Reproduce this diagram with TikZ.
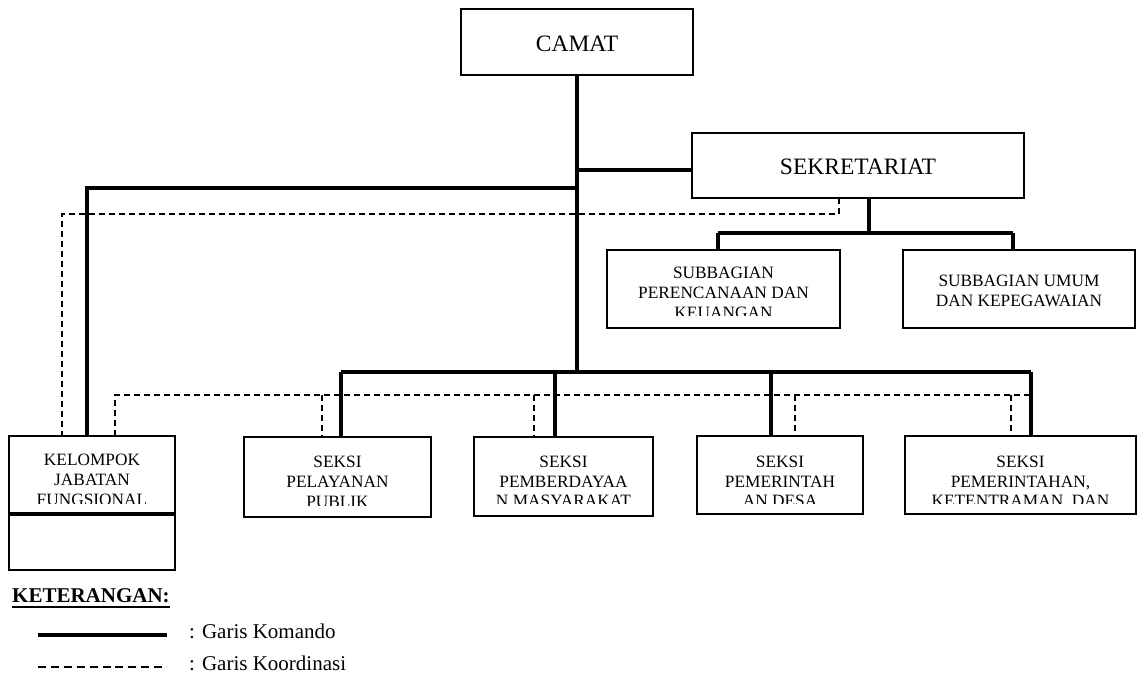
\documentclass[tikz,border=0pt]{standalone}
\usepackage{fontspec}
\setmainfont{Liberation Serif}
\begin{document}
\begin{tikzpicture}[x=1pt,y=-1pt,
  box/.style={draw, line width=2.4pt, inner sep=0pt, outer sep=0pt},
  cmd/.style={line width=3.6pt},
  crd/.style={line width=1.4pt, dash pattern=on 6pt off 4pt},
  lbl/.style={anchor=base, inner sep=0pt, font=\fontsize{17.3}{20}\selectfont},
  head/.style={anchor=base, inner sep=0pt, font=\fontsize{23.5}{28}\selectfont},
  leg/.style={anchor=base west, inner sep=0pt, font=\fontsize{21}{25}\selectfont}]
\useasboundingbox (0,0) rectangle (1138,682);

% ---------- boxes ----------
\node[box, minimum width=232pt, minimum height=66pt] (camat) at (577,42) {};
\node[head] (camatt) at (577,52) {CAMAT};

\node[box, minimum width=332pt, minimum height=65pt] (sek) at (858,165.5) {};
\node[head] (sekt) at (858,175) {SEKRETARIAT};

\node[box, minimum width=233pt, minimum height=78pt] (sub1) at (723.5,289) {};
\node[box, minimum width=232pt, minimum height=78pt] (sub2) at (1019,289) {};

\node[box, minimum width=166pt, minimum height=78pt] (kel) at (92,475) {};
\node[box, minimum width=166pt, minimum height=56pt] (kelb) at (92,542) {};
\draw[line width=4pt] (kel.south west) -- (kel.south east);

\node[box, minimum width=187pt, minimum height=80pt] (pel) at (337.5,477) {};
\node[box, minimum width=179pt, minimum height=79pt] (pem) at (563.5,476.5) {};
\node[box, minimum width=166pt, minimum height=78pt] (des) at (780,475) {};
\node[box, minimum width=231pt, minimum height=78pt] (ket) at (1020.5,475) {};

% ---------- box texts (clipped like the original) ----------
\begin{scope}
\clip (sub1.north west) rectangle (840,315);
\node[lbl] (sub1a) at (723.5,278) {SUBBAGIAN};
\node[lbl] (sub1b) at (723.5,298) {PERENCANAAN DAN};
\node[lbl] (sub1c) at (723.5,318) {KEUANGAN};
\end{scope}
\node[lbl] (sub2a) at (1019,286) {SUBBAGIAN UMUM};
\node[lbl] (sub2b) at (1019,306) {DAN KEPEGAWAIAN};

\begin{scope}
\clip (kel.north west) rectangle (175,503);
\node[lbl] (kela) at (92,465) {KELOMPOK};
\node[lbl] (kelb2) at (92,485) {JABATAN};
\node[lbl] (kelc) at (92,505) {FUNGSIONAL};
\end{scope}

\begin{scope}
\clip (pel.north west) rectangle (431,505);
\node[lbl] (pela) at (337.5,467) {SEKSI};
\node[lbl] (pelb) at (337.5,487) {PELAYANAN};
\node[lbl] (pelc) at (337.5,507) {PUBLIK};
\end{scope}

\begin{scope}
\clip (pem.north west) rectangle (653,503);
\node[lbl] (pema) at (563.5,467) {SEKSI};
\node[lbl] (pemb) at (563.5,487) {PEMBERDAYAA};
\node[lbl] (pemc) at (563.5,506) {N MASYARAKAT};
\end{scope}

\begin{scope}
\clip (des.north west) rectangle (863,503);
\node[lbl] (desa) at (780,467) {SEKSI};
\node[lbl] (desb) at (780,487) {PEMERINTAH};
\node[lbl] (desc) at (780,506) {AN DESA};
\end{scope}

\begin{scope}
\clip (ket.north west) rectangle (1136,503);
\node[lbl] (keta) at (1020.5,467) {SEKSI};
\node[lbl] (ketb) at (1020.5,487) {PEMERINTAHAN,};
\node[lbl] (ketc) at (1020.5,506) {KETENTRAMAN, DAN};
\end{scope}

% ---------- command lines ----------
\coordinate (tS) at (577,170);
\coordinate (tK) at (577,188);
\coordinate (tB) at (577,372);
\coordinate (kC) at (87,188);
\coordinate (bL) at (341,372);
\coordinate (bR) at (1031,372);
\coordinate (sD) at (869,233);
\coordinate (sL) at (718,233);
\coordinate (sR) at (1013,233);

\draw[cmd] (camat.south) -- (tB);
\draw[cmd] (tS) -- (sek.west |- tS);
\draw[cmd] (tK) -- (kC) -- (kel.north -| kC);
\draw[cmd] (bL) -- (bR);
\draw[cmd] (bL) -- (pel.north -| bL);
\draw[cmd] (555,372) -- (pem.north -| 555,0);
\draw[cmd] (771,372) -- (des.north -| 771,0);
\draw[cmd] (bR) -- (ket.north -| bR);
\draw[cmd] (sek.south -| sD) -- (sD);
\draw[cmd] (sL) -- (sR);
\draw[cmd] (sL) -- (sub1.north -| sL);
\draw[cmd] (sR) -- (sub2.north -| sR);

% ---------- coordination lines ----------
\coordinate (dS) at (839,214);
\coordinate (dL) at (62,214);
\coordinate (cL) at (115,395);
\coordinate (cR) at (1031,395);
\draw[crd] (sek.south -| dS) -- (dS) -- (dL) -- (kel.north -| dL);
\draw[crd] (kel.north -| cL) -- (cL) -- (cR);
\draw[crd] (322,395) -- (pel.north -| 322,0);
\draw[crd] (534,395) -- (pem.north -| 534,0);
\draw[crd] (795,395) -- (des.north -| 795,0);
\draw[crd] (1011,395) -- (ket.north -| 1011,0);

% ---------- legend ----------
\node[anchor=base west, inner sep=0pt, font=\fontsize{21}{25}\selectfont\bfseries] (keter) at (12,602) {KETERANGAN:};
\draw[line width=2pt] ([yshift=-5pt]keter.base west) -- ([yshift=-5pt]keter.base east);
\coordinate (l1a) at (38,635);
\coordinate (l1b) at (167,635);
\coordinate (l2a) at (38,667);
\coordinate (l2b) at (167,667);
\draw[line width=4pt] (l1a) -- (l1b);
\draw[line width=1.4pt, dash pattern=on 8pt off 4.9pt] (l2a) -- (l2b);
\node[leg] (lk) at (189,638) {: Garis Komando};
\node[leg] (lc) at (189,670) {: Garis Koordinasi};
\end{tikzpicture}
\end{document}
